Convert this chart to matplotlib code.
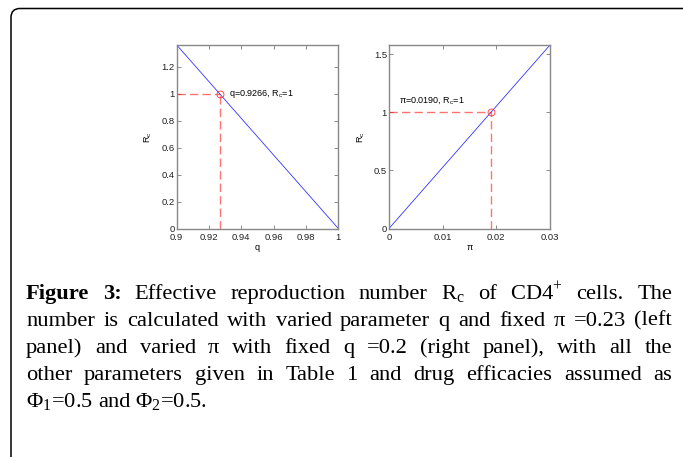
import matplotlib
matplotlib.use("Agg")
import matplotlib.pyplot as plt
import numpy as np
from matplotlib.patches import FancyBboxPatch
from matplotlib.transforms import IdentityTransform

# Data
q_values = [0.9, 1.0]
rc_left = [1.3624, 0.0]
q_star = 0.9266
pi_values = [0.0, 0.03]
rc_right = [0.0, 1.579]
pi_star = 0.0190

left_xticks = [0.9, 0.92, 0.94, 0.96, 0.98, 1.0]
left_yticks = [0, 0.2, 0.4, 0.6, 0.8, 1.0, 1.2]
right_xticks = [0, 0.01, 0.02, 0.03]
right_yticks = [0, 0.5, 1.0, 1.5]

caption_lines = [
    ["Figure", "3:", "Effective", "reproduction", "number", r"R$_\mathrm{c}$", "of",
     r"CD4$^\mathrm{+}$", "cells.", "The"],
    ["number", "is", "calculated", "with", "varied", "parameter", "q", "and", "fixed",
     "π", "=0.23", "(left"],
    ["panel)", "and", "varied", "π", "with", "fixed", "q", "=0.2", "(right", "panel),",
     "with", "all", "the"],
    ["other", "parameters", "given", "in", "Table", "1", "and", "drug", "efficacies",
     "assumed", "as"],
    [r"Φ$_\mathrm{1}$=0.5", "and", r"Φ$_\mathrm{2}$=0.5."],
]

W, H = 683, 457

plt.rcParams["font.family"] = ["Liberation Sans", "DejaVu Sans"]
plt.rcParams["mathtext.fontset"] = "custom"
plt.rcParams["mathtext.rm"] = "Liberation Serif"
plt.rcParams["mathtext.sf"] = "Liberation Sans"


def style_axes(ax, xticks, yticks, xlim, ylim):
    ax.set_xlim(*xlim)
    ax.set_ylim(*ylim)
    ax.set_xticks(xticks)
    ax.set_yticks(yticks)
    ax.xaxis.set_major_formatter(matplotlib.ticker.FormatStrFormatter("%g"))
    ax.yaxis.set_major_formatter(matplotlib.ticker.FormatStrFormatter("%g"))
    ax.tick_params(direction="in", top=True, right=True, length=3, width=0.6,
                   labelsize=6.8, pad=1.5, colors="#777777", labelcolor="#222222")
    ax.tick_params(axis="x", pad=3)
    for s in ax.spines.values():
        s.set_color("#888888")
        s.set_linewidth(1.0)
    ax.set_ylabel(r"R$_\mathsf{c}$", fontsize=6.5, labelpad=5)


fig = plt.figure(figsize=(W / 100, H / 100), dpi=100)

dash_kw = dict(color="#ff0000", alpha=0.55, lw=1.0, dashes=(6, 3))

# Left panel
ax1 = fig.add_axes([176.7 / W, 0.5, 161.6 / W, 183.5 / H])
ax1.plot(q_values, rc_left, color="#3333ff", lw=0.6)
ax1.plot([q_values[0], q_star], [1, 1], **dash_kw)
ax1.plot([q_star, q_star], [0, 1], **dash_kw)
ax1.plot([q_star], [1], marker="o", ms=5, mfc="none", mec="#ff3333", mew=0.6)
ax1.text(0.9322, 1.0, r"q=0.9266, R$_\mathsf{c}$=1", fontsize=6.5, va="center")
style_axes(ax1, left_xticks, left_yticks, (0.9, 1.0), (0, 1.3624))
ax1.set_xlabel("q", fontsize=6.5, labelpad=1)

# Right panel
ax2 = fig.add_axes([389 / W, 0.5, 161 / W, 183.5 / H])
ax2.plot(pi_values, rc_right, color="#3333ff", lw=0.6)
ax2.plot([pi_values[0], pi_star], [1, 1], **dash_kw)
ax2.plot([pi_star, pi_star], [0, 1], **dash_kw)
ax2.plot([pi_star], [1], marker="o", ms=5, mfc="none", mec="#ff3333", mew=0.6)
ax2.text(0.0019, 1.1, r"π=0.0190, R$_\mathsf{c}$=1", fontsize=6.5, va="center")
style_axes(ax2, right_xticks, right_yticks, (0, 0.03), (0, 1.579))
ax2.set_xlabel("π", fontsize=6.5, labelpad=1)

# Border with rounded top-left corner
border = FancyBboxPatch((11, -30), 720, H - 8.5 + 30,
                        boxstyle="round,pad=0,rounding_size=9",
                        transform=IdentityTransform(), fill=False,
                        ec="black", lw=1.1)
fig.patches.append(border)

# Justified caption
renderer = fig.canvas.get_renderer()
x_left, x_right = 26, 672
baselines = [299, 325.7, 353, 380, 407.3]
cap_kw = dict(fontsize=16.2, family="Liberation Serif", va="baseline", color="black")

for i, (words, yb) in enumerate(zip(caption_lines, baselines)):
    texts = []
    for j, w in enumerate(words):
        weight = "bold" if (i == 0 and j < 2) else "normal"
        texts.append(fig.text(0, 1 - yb / H, w, fontweight=weight, **cap_kw))
    widths = [t.get_window_extent(renderer).width for t in texts]
    if i < len(caption_lines) - 1:
        gap = (x_right - x_left - sum(widths)) / (len(words) - 1)
    else:
        gap = 5
    x = x_left
    for t, w in zip(texts, widths):
        t.set_x(x / W)
        x += w + gap

fig.savefig("out.png", dpi=100)
